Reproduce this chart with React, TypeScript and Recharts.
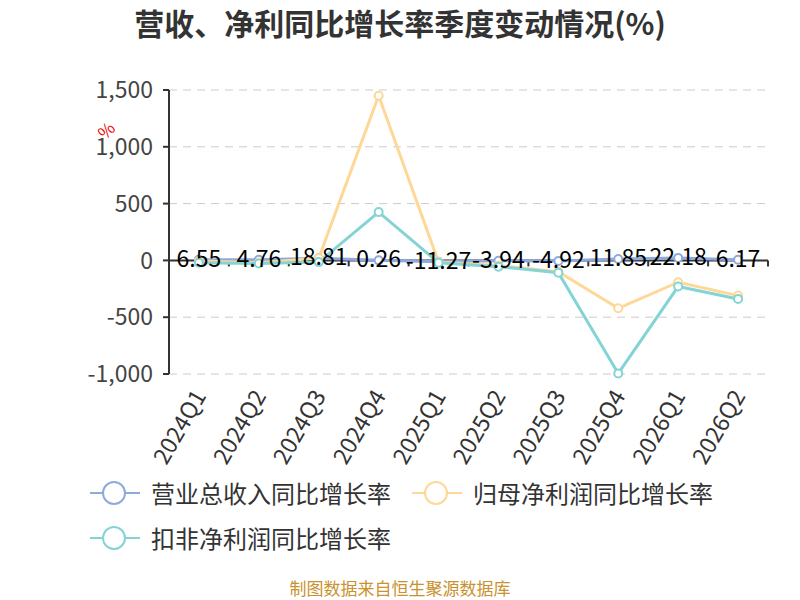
import { LineChart, Line, XAxis, YAxis, CartesianGrid, ReferenceLine, LabelList } from "recharts"

const quarters = ["2024Q1", "2024Q2", "2024Q3", "2024Q4", "2025Q1", "2025Q2", "2025Q3", "2025Q4", "2026Q1", "2026Q2"]
const revenueGrowth = [6.55, 4.76, 18.81, 0.26, -11.27, -3.94, -4.92, 11.85, 22.18, 6.17]
const netProfitGrowth = [-5, -20, 20, 1450, -15, -45, -100, -422, -192, -310]
const deductedGrowth = [-20, -27, -15, 425, -20, -55, -108, -995, -230, -339]
const yTicks = [-1000, -500, 0, 500, 1000, 1500]

const seriesNames = ["营业总收入同比增长率", "归母净利润同比增长率", "扣非净利润同比增长率"]
const seriesColors = ["#8eaadc", "#fdd898", "#84d4d6"]

const font = "'Noto Sans CJK SC', 'Noto Sans', sans-serif"

const data = quarters.map((q, i) => ({
  quarter: q,
  revenue: revenueGrowth[i],
  netProfit: netProfitGrowth[i],
  deducted: deductedGrowth[i],
}))

function QuarterTick(props: any) {
  const { x, y, payload } = props
  const ax = x + 8
  const ay = y + 14
  return (
    <text
      x={ax}
      y={ay}
      textAnchor="end"
      transform={`rotate(-60, ${ax}, ${ay})`}
      fontSize={23}
      fill="#333"
      fontFamily={font}
    >
      {payload.value}
    </text>
  )
}

// zero line with ticks on category boundaries, like the original x axis
function ZeroAxis(props: any) {
  const { x1, y1, x2 } = props
  const step = (x2 - x1) / quarters.length
  const marks = []
  for (let i = 0; i <= quarters.length; i++) {
    const x = x1 + i * step
    marks.push(<line key={i} x1={x} y1={y1} x2={x} y2={y1 + 6} stroke="#333" strokeWidth={2} />)
  }
  return (
    <g>
      <line x1={x1} y1={y1} x2={x2} y2={y1} stroke="#333" strokeWidth={2} />
      {marks}
    </g>
  )
}

function ValueLabel(props: any) {
  const { x, y, value } = props
  return (
    <text x={x} y={y + 7} textAnchor="middle" fontSize={23} fill="#000" fontFamily={font}>
      {value}
    </text>
  )
}

function LegendIcon({ color }: { color: string }) {
  return (
    <svg width={50} height={26} style={{ marginRight: 11, flexShrink: 0 }}>
      <line x1={0} y1={13} x2={50} y2={13} stroke={color} strokeWidth={2} />
      <circle cx={24} cy={13} r={11} fill="#fff" stroke={color} strokeWidth={2} />
    </svg>
  )
}

const dot = (color: string) => ({ r: 4, fill: "#fff", stroke: color, strokeWidth: 2 })

export default function App() {
  return (
    <div style={{ position: "relative", width: 800, height: 600, background: "#fff", fontFamily: font, overflow: "hidden" }}>
      <style>{`body{margin:0}`}</style>
      <div
        style={{
          position: "absolute",
          top: 2,
          left: 0,
          width: 800,
          lineHeight: "40px",
          textAlign: "center",
          fontSize: 30,
          fontWeight: "bold",
          color: "#333",
        }}
      >
        营收、净利同比增长率季度变动情况(%)
      </div>
      <div
        style={{
          position: "absolute",
          left: 98,
          top: 120,
          lineHeight: "20px",
          color: "#e00",
          fontSize: 17,
          transform: "rotate(-45deg)",
        }}
      >
        %
      </div>
      <LineChart width={800} height={600} data={data} margin={{ top: 90, right: 32, bottom: 0, left: 0 }}>
        <CartesianGrid vertical={false} stroke="#ccc" strokeDasharray="8 6" />
        <XAxis
          dataKey="quarter"
          scale="band"
          height={226}
          axisLine={false}
          tickLine={false}
          interval={0}
          tick={<QuarterTick />}
        />
        <YAxis
          type="number"
          width={169}
          domain={[-1000, 1500]}
          ticks={yTicks}
          interval={0}
          tickFormatter={(v: number) => v.toLocaleString("en-US")}
          tick={{ fontSize: 23, fill: "#444", fontFamily: font }}
          tickMargin={10}
          tickSize={6}
          axisLine={{ stroke: "#333", strokeWidth: 2 }}
          tickLine={{ stroke: "#333", strokeWidth: 2 }}
        />
        <ReferenceLine y={0} shape={<ZeroAxis />} />
        <Line
          dataKey="revenue"
          stroke={seriesColors[0]}
          strokeWidth={3}
          dot={dot(seriesColors[0])}
          isAnimationActive={false}
        />
        <Line
          dataKey="netProfit"
          stroke={seriesColors[1]}
          strokeWidth={3}
          dot={dot(seriesColors[1])}
          isAnimationActive={false}
        />
        <Line
          dataKey="deducted"
          stroke={seriesColors[2]}
          strokeWidth={3}
          dot={dot(seriesColors[2])}
          isAnimationActive={false}
        />
        <Line dataKey="revenue" stroke="none" dot={false} activeDot={false} isAnimationActive={false}>
          <LabelList dataKey="revenue" content={<ValueLabel />} />
        </Line>
      </LineChart>
      <div style={{ position: "absolute", left: 90, top: 478, width: 700, display: "flex", flexWrap: "wrap", rowGap: 15 }}>
        {seriesNames.map((name, i) => (
          <div
            key={name}
            style={{
              display: "flex",
              alignItems: "center",
              width: 322,
              height: 30,
              fontSize: 24,
              lineHeight: "30px",
              color: "#333",
              whiteSpace: "nowrap",
            }}
          >
            <LegendIcon color={seriesColors[i]} />
            {name}
          </div>
        ))}
      </div>
      <div
        style={{
          position: "absolute",
          top: 578,
          left: 0,
          width: 800,
          lineHeight: "20px",
          textAlign: "center",
          fontSize: 17,
          color: "#c9922e",
        }}
      >
        制图数据来自恒生聚源数据库
      </div>
    </div>
  )
}
